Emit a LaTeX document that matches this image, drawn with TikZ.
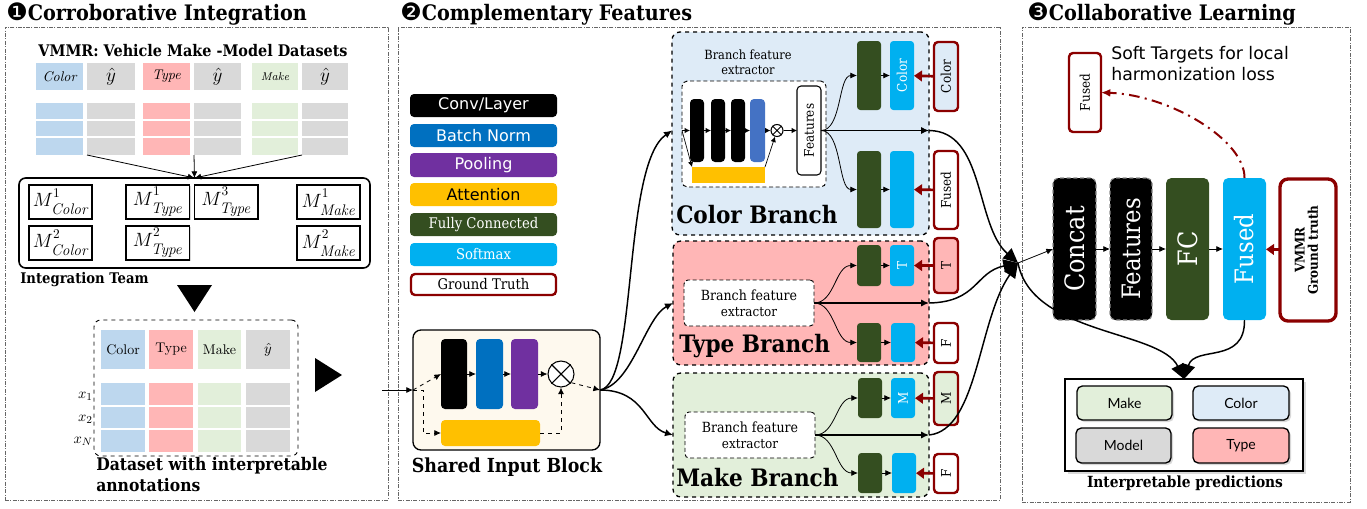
\documentclass[tikz,border=0pt]{standalone}
\usepackage[no-math]{fontspec}
\usepackage{amsmath}
\usepackage{graphicx}
\usetikzlibrary{arrows.meta,shadows,calc}
\setmainfont{DejaVu Serif}[FakeStretch=0.9]
\newfontfamily\dsans{DejaVu Sans}
\newfontfamily\lato{Lato}
\newfontfamily\lmr{Latin Modern Roman}
\newcommand\fs[1]{\fontsize{#1}{0}\selectfont\baselineskip=1.2\dimexpr#1pt\relax}
\newcommand\bxn[7]{\node[inner sep=0pt, outer sep=0pt, minimum width={(#5-(#3))*0.75pt}, minimum height={(#6-(#4))*0.75pt}, #2] (#1) at ({(#3+#5)/2},{(#4+#6)/2}) {#7};}
\newcommand\msub[2]{\fs{14}$M^{\raisebox{2pt}{$\scriptstyle #1$}}_{\raisebox{-2.5pt}{\lmr\itshape\fs{11.5}#2}}$}
\definecolor{cblue}{HTML}{BDD7EE}
\definecolor{cred}{HTML}{FFB6B6}
\definecolor{cgreen}{HTML}{E2EFDA}
\definecolor{cgray}{HTML}{D9D9D9}
\definecolor{bnorm}{HTML}{0070C0}
\definecolor{pool}{HTML}{7030A0}
\definecolor{attn}{HTML}{FFC000}
\definecolor{fcg}{HTML}{344E20}
\definecolor{smax}{HTML}{00B0F0}
\definecolor{gtred}{HTML}{8B0000}
\definecolor{bblue}{HTML}{DEEBF7}
\definecolor{cream}{HTML}{FEF9EE}
\definecolor{bar4}{HTML}{4472C4}
\begin{document}
\begin{tikzpicture}[x=0.75pt,y=-0.75pt,
  panel/.style={draw=black!60, dash pattern=on 3pt off 1pt on 0.8pt off 1pt, line width=0.6pt},
  tarr/.style={-{Latex[length=4pt,width=4pt]}, line width=0.5pt},
  sarr/.style={-{Latex[length=5pt,width=4.5pt]}, line width=0.6pt},
  marr/.style={-{Latex[length=6pt,width=5.5pt]}, line width=1.1pt},
  jarr/.style={-{Triangle[length=11pt,width=10pt]}, line width=1.1pt},
  gtarr/.style={-{Triangle[length=6pt,width=8pt]}, line width=2pt, draw=gtred, color=gtred},
  gtbox/.style={draw=gtred, line width=1.8pt, rounded corners=3pt},
  fcbox/.style={fill=fcg, rounded corners=2.5pt},
  smbox/.style={fill=smax, rounded corners=2.5pt, text=white},
  brbox/.style={draw, dashed, line width=1pt, rounded corners=6pt},
  bfebox/.style={draw, densely dashed, line width=0.7pt, rounded corners=3pt, fill=white, align=center},
  mbox/.style={draw, line width=1.2pt, fill=white, drop shadow={shadow xshift=1pt, shadow yshift=-1pt, opacity=0.3}},
  legbox/.style={rounded corners=3pt},
  blk/.style={rounded corners=3pt},
  pbox/.style={draw, line width=1pt, rounded corners=4pt, drop shadow={shadow xshift=1.5pt, shadow yshift=-1.5pt, opacity=0.3}},
]
\useasboundingbox (0,0) rectangle (1367,508);
% ---------- panels and titles
\bxn{p1}{panel}{5}{27}{388}{500}{}
\bxn{p2}{panel}{398}{27}{1000}{500}{}
\bxn{p3}{panel}{1022}{27}{1350}{502}{}
\node[anchor=west, inner sep=0pt] (t1) at (6,14) {{\dsans\fs{18}❶}\fs{16}\bfseries Corroborative Integration};
\node[anchor=west, inner sep=0pt] (t2) at (400,14) {{\dsans\fs{18}❷}\fs{16}\bfseries Complementary Features};
\node[anchor=west, inner sep=0pt] (t3) at (1027,14) {{\dsans\fs{18}❸}\fs{16}\bfseries Collaborative Learning};
% ---------- panel 1
\node[inner sep=0pt, font={\bfseries\fs{12}}] (vmmr) at (193,51) {VMMR: Vehicle Make -Model Datasets};
\bxn{h1}{fill=cblue}{36}{63}{83}{90}{\lmr\itshape\fs{10.5}Color}
\bxn{h2}{fill=cgray}{87}{63}{135}{90}{\fs{15}$\hat{y}$}
\bxn{h3}{fill=cred}{143}{63}{190}{90}{\lmr\itshape\fs{10.5}Type}
\bxn{h4}{fill=cgray}{194}{63}{241}{90}{\fs{15}$\hat{y}$}
\bxn{h5}{fill=cgreen}{252}{63}{298}{90}{\lmr\itshape\fs{8.5}Make}
\bxn{h6}{fill=cgray}{302}{63}{348}{90}{\fs{15}$\hat{y}$}
\bxn{d1}{fill=cblue}{36}{103}{83}{155}{}
\bxn{d2}{fill=cgray}{87}{103}{135}{155}{}
\bxn{d3}{fill=cred}{143}{103}{190}{155}{}
\bxn{d4}{fill=cgray}{194}{103}{241}{155}{}
\bxn{d5}{fill=cgreen}{252}{103}{298}{155}{}
\bxn{d6}{fill=cgray}{302}{103}{348}{155}{}
\foreach \n in {d1,d2,d3,d4,d5,d6}{\draw[white, line width=0.9pt] (\n.west |- 0,120) -- (\n.east |- 0,120) (\n.west |- 0,137) -- (\n.east |- 0,137);}
\bxn{team}{draw, line width=1.2pt, rounded corners=5pt}{19}{178}{370}{268}{}
\draw[sarr] (d2.south west) -- (team.north);
\draw[sarr] (d4.south west) -- (team.north);
\draw[sarr] (d6.south west) -- (team.north);
\bxn{m1c}{mbox}{29}{185}{92}{219}{\msub{1}{Color}}
\bxn{m1t}{mbox}{126}{185}{189.5}{219}{\msub{1}{Type}}
\bxn{m3t}{mbox}{194.5}{185}{258}{219}{\msub{3}{Type}}
\bxn{m1m}{mbox}{297}{185}{360}{219}{\msub{1}{Make}}
\bxn{m2c}{mbox}{29}{226}{92}{260}{\msub{2}{Color}}
\bxn{m2t}{mbox}{126}{226}{189.5}{260}{\msub{2}{Type}}
\bxn{m2m}{mbox}{297}{226}{360}{260}{\msub{2}{Make}}
\node[anchor=west, inner sep=0pt, font={\bfseries\fs{11}}] (itlab) at (20,280) {Integration Team};
\fill (177,285) -- (212,285) -- (194.5,312) -- cycle;
\bxn{ds}{draw, dashed, line width=0.7pt, rounded corners=5pt}{94}{320}{298}{456}{}
\bxn{bh1}{fill=cblue}{101}{330}{145}{369}{\lmr\fs{10.5}Color}
\bxn{bh2}{fill=cred}{149}{330}{193}{369}{\lmr\fs{10.5}Type}
\bxn{bh3}{fill=cgreen}{198}{330}{241}{369}{\lmr\fs{10.5}Make}
\bxn{bh4}{fill=cgray}{246}{330}{290}{369}{\fs{10.5}$\hat{y}$}
\bxn{bd1}{fill=cblue}{101}{383}{145}{452}{}
\bxn{bd2}{fill=cred}{149}{383}{193}{452}{}
\bxn{bd3}{fill=cgreen}{198}{383}{241}{452}{}
\bxn{bd4}{fill=cgray}{246}{383}{290}{452}{}
\foreach \n in {bd1,bd2,bd3,bd4}{\draw[white, line width=0.9pt] (\n.west |- 0,406) -- (\n.east |- 0,406) (\n.west |- 0,429) -- (\n.east |- 0,429);}
\node[anchor=east, inner sep=0pt] (x1) at (93,396) {\fs{11}$x_1$};
\node[anchor=east, inner sep=0pt] (x2) at (93,419) {\fs{11}$x_2$};
\node[anchor=east, inner sep=0pt] (xn) at (93,441) {\fs{11}$x_N$};
\node[anchor=north west, align=left, inner sep=0pt, font={\bfseries\fs{13}}] (dslab) at (96,457) {Dataset with interpretable\\annotations};
\fill (315,358) -- (342,375) -- (315,392) -- cycle;
\coordinate (p1out) at (382,390);
% ---------- legend
\bxn{lg1}{legbox, fill=black, text=white}{410}{94}{557}{117}{\dsans\fs{12}Conv/Layer}
\bxn{lg2}{legbox, fill=bnorm, text=white}{410}{124}{557}{147}{\dsans\fs{12}Batch Norm}
\bxn{lg3}{legbox, fill=pool, text=white}{410}{153}{557}{177}{\dsans\fs{12}Pooling}
\bxn{lg4}{legbox, fill=attn}{410}{183}{557}{206}{\dsans\fs{12}Attention}
\bxn{lg5}{legbox, fill=fcg, text=white}{410}{213}{557}{236}{\fs{11}Fully Connected}
\bxn{lg6}{legbox, fill=smax, text=white}{410}{243}{557}{266}{\fs{11}Softmax}
\bxn{lg7}{legbox, draw=gtred, line width=1.8pt, fill=white}{411}{274}{556}{295}{\fs{11}Ground Truth}
% ---------- shared block
\bxn{shared}{draw, line width=1pt, rounded corners=6pt, fill=cream}{413}{330}{600}{450}{}
\bxn{sconv}{blk, fill=black}{441}{339}{467}{409}{}
\bxn{sbn}{blk, fill=bnorm}{476}{339}{503}{409}{}
\bxn{spool}{blk, fill=pool}{511}{339}{538}{409}{}
\node[circle, draw, line width=0.8pt, fill=white, minimum size={26*0.75pt}, inner sep=0pt] (sx) at (561,374) {};
\draw[line width=0.8pt] (sx.45) -- (sx.225) (sx.135) -- (sx.315);
\bxn{satt}{blk, fill=attn}{441}{420}{540}{446}{}
\node[inner sep=0pt, font={\bfseries\fs{14.5}}] (shlab) at (507,467) {Shared Input Block};
\draw[sarr] (p1out) -- (shared.west);
\draw[sarr] (sconv) -- (sbn);
\draw[sarr] (sbn) -- (spool);
\draw[sarr] (spool) -- (sx);
\draw[sarr, dashed] (shared.west) -- (sconv.west);
\draw[sarr, dashed] (shared.west) -- ++(10,0) |- (satt.west);
\draw[sarr, dashed] (satt.east) -| (sx.south);
\draw[sarr, dashed] (sx.-40) -- (shared.east);
% ---------- color branch
\bxn{cb}{brbox, fill=bblue}{672}{32}{929}{235}{}
\node[align=center, inner sep=0pt, font=\fs{9.5}] (cbfel) at (748,62) {Branch feature\\extractor};
\bxn{cbfe}{draw, densely dashed, line width=0.7pt, rounded corners=4pt, fill=white}{682}{81}{826}{187}{}
\bxn{cb1}{blk, fill=black}{690}{99}{704}{162}{}
\bxn{cb2}{blk, fill=black}{711}{99}{725}{162}{}
\bxn{cb3}{blk, fill=black}{731}{99}{745}{162}{}
\bxn{cb4}{blk, fill=bar4}{750}{99}{765}{162}{}
\node[circle, draw, line width=0.8pt, fill=white, minimum size={12*0.75pt}, inner sep=0pt] (cx) at (777,130.5) {};
\draw[line width=0.7pt] (cx.45) -- (cx.225) (cx.135) -- (cx.315);
\bxn{cyel}{fill=attn}{692}{167}{765}{183}{}
\bxn{cfeat}{draw, line width=0.8pt, fill=white, rounded corners=3pt}{797}{86}{821}{175}{\rotatebox{90}{\fs{10}Features}}
\coordinate (cin) at (cb.west |- cb1);
\coordinate (cfs) at (cbfe.west |- cb1);
\draw[tarr] (cfs) -- (cb1);
\draw[tarr] (cb1) -- (cb2);
\draw[tarr] (cb2) -- (cb3);
\draw[tarr] (cb3) -- (cb4);
\draw[tarr] (cb4) -- (cx);
\draw[tarr] (cx) -- (cfeat);
\draw[tarr] (cfs) -- (cyel.north west);
\draw[tarr] (cyel.north east) -- (cx);
\bxn{cfc1}{fcbox}{857}{41}{881}{110}{}
\bxn{csm1}{smbox}{890}{41}{914}{110}{\rotatebox{90}{\fs{10}Color}}
\bxn{cfc2}{fcbox}{857}{151}{881}{228}{}
\bxn{csm2}{smbox}{890}{151}{914}{228}{}
\bxn{cgt1}{gtbox, fill=bblue}{934}{42}{958}{111}{\rotatebox{90}{\fs{10}Color}}
\bxn{cgt2}{gtbox, fill=white}{934}{151}{958}{229}{\rotatebox{90}{\fs{10}Fused}}
\draw[sarr] (cfeat.east) .. controls (842,130.5) and (838,75.5) .. (cfc1.west);
\draw[sarr] (cfeat.east) .. controls (842,130.5) and (838,189.5) .. (cfc2.west);
\draw[sarr] (cfc1) -- (csm1);
\draw[sarr] (cfc2) -- (csm2);
\draw[gtarr] (cgt1) -- (csm1);
\draw[gtarr] (cgt2) -- (csm2);
\coordinate (cout) at (cb.east |- cfeat);
\draw[marr] (cfeat.east) -- (cout);
\node[anchor=west, inner sep=0pt, font={\bfseries\fs{18}}] (cblab) at (676,215) {Color Branch};
% ---------- type branch
\bxn{tb}{brbox, fill=cred}{673}{241}{929}{365}{}
\bxn{tbfe}{bfebox}{684}{280}{814}{326}{\fs{10.5}Branch feature\\extractor}
\bxn{tfc1}{fcbox}{857}{245}{881}{286}{}
\bxn{tsm1}{smbox}{890}{245}{914}{286}{\rotatebox{90}{\fs{10}T}}
\bxn{tfc2}{fcbox}{857}{323}{881}{362}{}
\bxn{tsm2}{smbox}{891}{323}{915}{362}{}
\bxn{tgt1}{gtbox, fill=cred}{934}{238}{958}{293}{\rotatebox{90}{\fs{10}T}}
\bxn{tgt2}{gtbox, fill=white}{934}{323}{958}{363}{\rotatebox{90}{\fs{10}F}}
\coordinate (tin) at (tb.west |- tbfe);
\draw[sarr] (tbfe.east) .. controls (835,303) and (835,265.5) .. (tfc1.west);
\draw[sarr] (tbfe.east) .. controls (835,303) and (835,342.5) .. (tfc2.west);
\draw[sarr] (tfc1) -- (tsm1);
\draw[sarr] (tfc2) -- (tsm2);
\draw[gtarr] (tgt1) -- (tsm1);
\draw[gtarr] (tgt2) -- (tsm2);
\coordinate (tout) at (tb.east |- tbfe);
\draw[marr] (tbfe.east) -- (tout);
\node[anchor=west, inner sep=0pt, font={\bfseries\fs{18}}] (tblab) at (679,346) {Type Branch};
% ---------- make branch
\bxn{mb}{brbox, fill=cgreen}{673}{373}{929}{497}{}
\bxn{mbfe}{bfebox}{685}{412}{815}{458}{\fs{10.5}Branch feature\\extractor}
\bxn{mfc1}{fcbox}{858}{378}{882}{418}{}
\bxn{msm1}{smbox}{891}{378}{915}{418}{\rotatebox{90}{\fs{10}M}}
\bxn{mfc2}{fcbox}{858}{453}{882}{493}{}
\bxn{msm2}{smbox}{892}{453}{916}{493}{}
\bxn{mgt1}{gtbox, fill=cgreen}{934}{372}{958}{425}{\rotatebox{90}{\fs{10}M}}
\bxn{mgt2}{gtbox, fill=white}{934}{454}{958}{493}{\rotatebox{90}{\fs{10}F}}
\coordinate (min) at (mb.west |- mbfe);
\draw[sarr] (mbfe.east) .. controls (836,435) and (836,398) .. (mfc1.west);
\draw[sarr] (mbfe.east) .. controls (836,435) and (836,473) .. (mfc2.west);
\draw[sarr] (mfc1) -- (msm1);
\draw[sarr] (mfc2) -- (msm2);
\draw[gtarr] (mgt1) -- (msm1);
\draw[gtarr] (mgt2) -- (msm2);
\coordinate (mout) at (mb.east |- mbfe);
\draw[marr] (mbfe.east) -- (mout);
\node[anchor=west, inner sep=0pt, font={\bfseries\fs{18}}] (mblab) at (676,478) {Make Branch};
% ---------- shared -> branches
\draw[marr] (shared.east) .. controls (638,385) and (622,165) .. (cin);
\draw[marr] (shared.east) .. controls (632,385) and (645,318) .. (tin);
\draw[marr] (shared.east) .. controls (645,390) and (645,427) .. (min);
% ---------- right panel
\coordinate (J) at (1018,263);
\draw[jarr] (cout) .. controls (985,131) and (975,225) .. (J);
\draw[jarr] (tout) .. controls (978,302) and (975,272) .. (J);
\draw[jarr] (mout) .. controls (978,430) and (978,320) .. (J);
\bxn{concat}{fill=black, draw=black!45, densely dashed, line width=0.8pt, rounded corners=4pt, text=white}{1053}{178}{1096}{320}{\rotatebox{90}{\fs{20}Concat}}
\bxn{rfeat}{fill=black, draw=black!45, densely dashed, line width=0.8pt, rounded corners=4pt, text=white}{1110}{178}{1152}{320}{\rotatebox{90}{\fs{19}Features}}
\bxn{rfc}{fill=fcg, rounded corners=4pt, text=white}{1166}{178}{1209}{320}{\rotatebox{90}{\fs{20}FC}}
\bxn{rfused}{fill=smax, rounded corners=4pt, text=white}{1223}{178}{1266}{320}{\rotatebox{90}{\fs{19}Fused}}
\bxn{rgt}{draw=gtred, line width=2.5pt, rounded corners=6pt, fill=white}{1280}{179}{1336}{321}{\rotatebox{90}{\begin{tabular}{@{}c@{}}\bfseries\fs{10}VMMR\\[-2pt]\bfseries\fs{10}Ground truth\end{tabular}}}
\draw[sarr] (J) -- (concat.west);
\draw[sarr] (concat) -- (rfeat);
\draw[sarr] (rfeat) -- (rfc);
\draw[sarr] (rfc) -- (rfused);
\draw[gtarr] (rgt) -- (rfused);
\bxn{sfused}{draw=gtred, line width=1.8pt, rounded corners=3pt, fill=white}{1069}{53}{1101}{132}{\rotatebox{90}{\fs{10}Fused}}
\node[anchor=north west, align=left, inner sep=0pt, font={\dsans\fs{13}}] (soft) at (1111,46) {Soft Targets for local\\harmonization loss};
\draw[gtred, line width=1.5pt, dash pattern=on 8pt off 4pt on 1.5pt off 4pt, -{Latex[length=7pt,width=6pt]}] (rfused.north) .. controls (1245,140) and (1170,95) .. (sfused.east);
\bxn{pred}{draw, line width=1.2pt, fill=white, drop shadow={shadow xshift=2pt, shadow yshift=-2pt, opacity=0.3}}{1065}{379}{1303}{471}{}
\bxn{pmake}{pbox, fill=cgreen}{1077}{386}{1172}{420}{\lato\fs{10.5}Make}
\bxn{pcolor}{pbox, fill=bblue}{1193}{386}{1289}{420}{\lato\fs{10.5}Color}
\bxn{pmodel}{pbox, fill=cgray}{1076}{428}{1171}{463}{\lato\fs{10.5}Model}
\bxn{ptype}{pbox, fill=cred}{1193}{428}{1289}{463}{\lato\fs{10.5}Type}
\node[inner sep=0pt, font={\bfseries\fs{11.5}}] (plab) at (1185,483) {Interpretable predictions};
\draw[jarr] (J) .. controls (1032,335) and (1160,330) .. (pred.north);
\draw[jarr] (rfused.south) .. controls (1245,365) and (1195,345) .. (pred.north);
\end{tikzpicture}
\end{document}
